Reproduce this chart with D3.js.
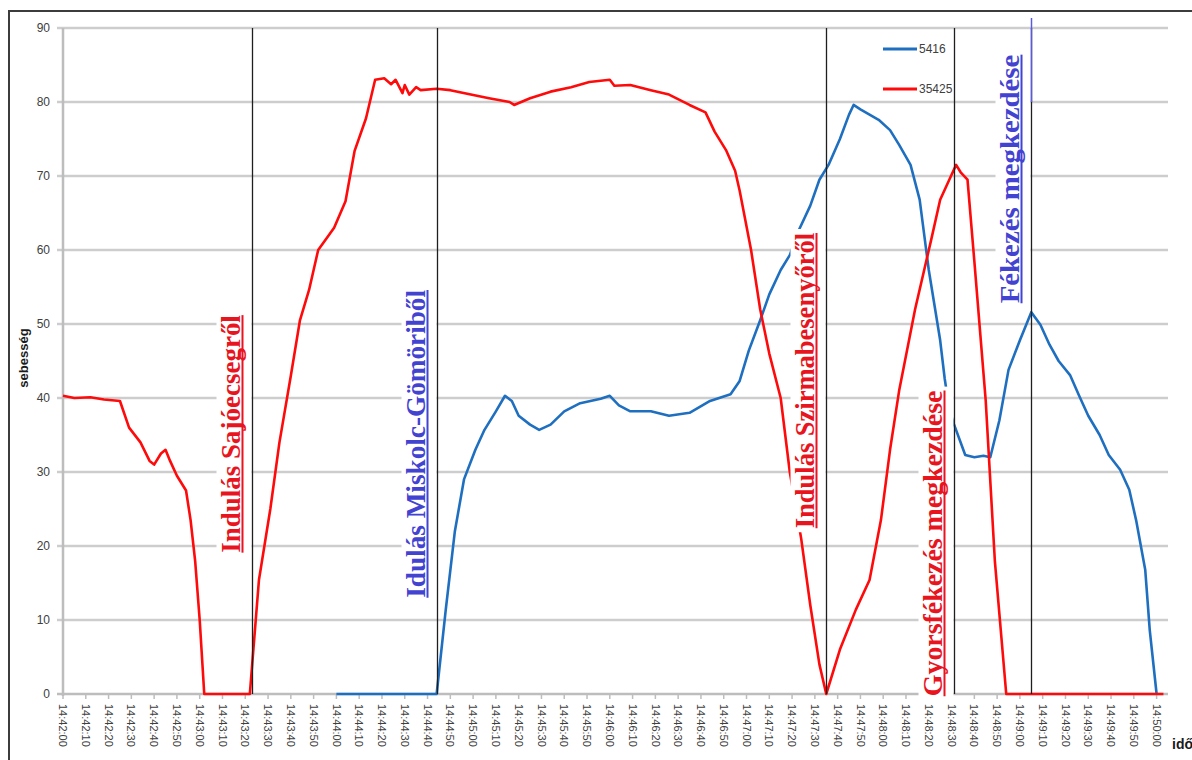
<!DOCTYPE html>
<html>
<head>
<meta charset="utf-8">
<script src="https://cdn.jsdelivr.net/npm/d3@7"></script>
<style>
  body { margin: 0; background: #fff; }
  svg { display: block; }
</style>
</head>
<body>
<div id="chart"></div>
<script>
var width = 1192, height = 760;

// speed of train 5416 (time, km/h)
const train5416 = [
  ["14:44:00", 0], ["14:44:44", 0], ["14:44:48", 11.4], ["14:44:52", 22], ["14:44:56", 29],
  ["14:45:01", 33], ["14:45:05", 35.7], ["14:45:10", 38.2], ["14:45:14", 40.3], ["14:45:17", 39.6],
  ["14:45:20", 37.6], ["14:45:25", 36.4], ["14:45:29", 35.7], ["14:45:34", 36.4], ["14:45:40", 38.2],
  ["14:45:47", 39.3], ["14:45:56", 39.9], ["14:46:00", 40.3], ["14:46:04", 39], ["14:46:09", 38.2],
  ["14:46:18", 38.2], ["14:46:26", 37.6], ["14:46:35", 38], ["14:46:44", 39.6], ["14:46:53", 40.5],
  ["14:46:57", 42.3], ["14:47:01", 46.4], ["14:47:06", 50.5], ["14:47:10", 54], ["14:47:15", 57.3],
  ["14:47:19", 59.3], ["14:47:23", 62.7], ["14:47:28", 66], ["14:47:32", 69.5], ["14:47:36", 71.5],
  ["14:47:41", 75], ["14:47:45", 78.3], ["14:47:47", 79.6], ["14:47:50", 79], ["14:47:54", 78.3],
  ["14:47:58", 77.6], ["14:48:03", 76.2], ["14:48:07", 74.2], ["14:48:12", 71.5], ["14:48:16", 66.8],
  ["14:48:20", 57.3], ["14:48:25", 47.8], ["14:48:27", 42.6], ["14:48:29", 38.5], ["14:48:31", 36.5],
  ["14:48:36", 32.3], ["14:48:40", 32], ["14:48:44", 32.2], ["14:48:47", 32], ["14:48:51", 37],
  ["14:48:55", 43.8], ["14:49:00", 47.8], ["14:49:05", 51.6], ["14:49:09", 49.9], ["14:49:13", 47.2],
  ["14:49:17", 45], ["14:49:22", 43.1], ["14:49:26", 40.3], ["14:49:30", 37.6], ["14:49:35", 35],
  ["14:49:39", 32.3], ["14:49:44", 30.3], ["14:49:48", 27.6], ["14:49:51", 23.5], ["14:49:55", 16.8],
  ["14:49:57", 8.6], ["14:50:00", 0]
];

// speed of train 35425
const train35425 = [
  ["14:42:00", 40.3], ["14:42:05", 40.0], ["14:42:12", 40.1], ["14:42:18", 39.8], ["14:42:25", 39.6],
  ["14:42:29", 36], ["14:42:34", 34], ["14:42:38", 31.5], ["14:42:40", 31], ["14:42:43", 32.5],
  ["14:42:45", 33], ["14:42:47", 31.5], ["14:42:50", 29.5], ["14:42:54", 27.5], ["14:42:56", 23.5],
  ["14:42:58", 18], ["14:43:00", 10], ["14:43:02", 0], ["14:43:22", 0], ["14:43:26", 15.4],
  ["14:43:31", 25], ["14:43:35", 34], ["14:43:40", 43], ["14:43:44", 50.5], ["14:43:48", 54.6],
  ["14:43:52", 60], ["14:43:55", 61.3], ["14:43:59", 63], ["14:44:04", 66.6], ["14:44:08", 73.4],
  ["14:44:13", 77.8], ["14:44:17", 83], ["14:44:21", 83.2], ["14:44:24", 82.4], ["14:44:26", 83],
  ["14:44:29", 81.2], ["14:44:30", 82.3], ["14:44:32", 81], ["14:44:35", 82], ["14:44:37", 81.6],
  ["14:44:44", 81.8], ["14:44:50", 81.6], ["14:44:59", 81], ["14:45:07", 80.5], ["14:45:16", 80],
  ["14:45:18", 79.6], ["14:45:25", 80.5], ["14:45:34", 81.4], ["14:45:43", 82], ["14:45:51", 82.7],
  ["14:46:00", 83], ["14:46:02", 82.2], ["14:46:09", 82.3], ["14:46:18", 81.6], ["14:46:26", 81],
  ["14:46:35", 79.6], ["14:46:42", 78.6], ["14:46:46", 76], ["14:46:51", 73.5], ["14:46:55", 70.7],
  ["14:46:57", 68], ["14:47:02", 60], ["14:47:06", 52], ["14:47:10", 46], ["14:47:15", 40],
  ["14:47:19", 30], ["14:47:24", 21], ["14:47:28", 12], ["14:47:32", 4], ["14:47:35", 0],
  ["14:47:41", 6], ["14:47:48", 11.4], ["14:47:54", 15.4], ["14:47:59", 23.5], ["14:48:03", 33],
  ["14:48:07", 41], ["14:48:14", 52], ["14:48:21", 61.3], ["14:48:25", 66.8], ["14:48:29", 69.5],
  ["14:48:32", 71.5], ["14:48:34", 70.5], ["14:48:37", 69.5], ["14:48:40", 58.5], ["14:48:45", 39.6],
  ["14:48:49", 18], ["14:48:54", 0], ["14:50:03", 0]
];

const yTicks = [0, 10, 20, 30, 40, 50, 60, 70, 80, 90];

// event markers: time, label, colour, speed span of the text (bottom, top)
const markerTimes = ["14:43:23", "14:44:44", "14:47:35", "14:48:31", "14:49:05"];
const markerLabels = ["Indulás Sajóecsegről", "Idulás Miskolc-Gömöriből", "Indulás Szirmabesenyőről",
  "Gyorsfékezés megkezdése", "Fékezés megkezdése"];
const markerColors = ["#e8141e", "#4343d2", "#e8141e", "#e8141e", "#4343d2"];
const markerSpans = [[19.1, 51.2], [13.0, 54.6], [22.4, 62.3], [-0.3, 41], [52.8, 86.4]];

const parseTime = d3.timeParse("%H:%M:%S");

const svg = d3.select("#chart").append("svg")
  .attr("width", width).attr("height", height)
  .style("font-family", "'Liberation Sans', Arial, sans-serif");

// outer frame of the pasted chart
svg.append("rect")
  .attr("x", 9).attr("y", 11).attr("width", 1300).attr("height", 900)
  .attr("fill", "#fff").attr("stroke", "#3c3c3c").attr("stroke-width", 2);

const x = d3.scaleTime()
  .domain([parseTime("14:42:00"), parseTime("14:50:05")])
  .range([63, 1168]);
const y = d3.scaleLinear().domain([0, 90]).range([694, 28]);

//Gridlines
svg.append("g").selectAll("line").data(yTicks.filter(d => d > 0)).enter().append("line")
  .attr("x1", 57).attr("x2", 1168)
  .attr("y1", d => y(d)).attr("y2", d => y(d))
  .attr("stroke", "#cdcdcd").attr("stroke-width", 2.5);

//Axes lines
svg.append("line").attr("x1", 63).attr("x2", 63).attr("y1", y(90)).attr("y2", y(0) + 2)
  .attr("stroke", "#bdbdbd").attr("stroke-width", 2.5);
svg.append("line").attr("x1", 57).attr("x2", 1168).attr("y1", y(0)).attr("y2", y(0))
  .attr("stroke", "#bdbdbd").attr("stroke-width", 2.5);

svg.append("g").selectAll("text").data(yTicks).enter().append("text")
  .attr("x", 50).attr("y", d => y(d)).attr("dy", "0.35em")
  .attr("text-anchor", "end")
  .style("font-size", "12px").attr("fill", "#404040")
  .text(d => d);

const xTicks = d3.timeSecond.every(10).range(parseTime("14:42:00"), parseTime("14:50:01"));
const fmt = d3.timeFormat("%H:%M:%S");

svg.append("g").selectAll("line").data(xTicks).enter().append("line")
  .attr("x1", d => x(d)).attr("x2", d => x(d))
  .attr("y1", y(0)).attr("y2", y(0) + 5)
  .attr("stroke", "#bdbdbd").attr("stroke-width", 1.5);

svg.append("g").selectAll("text").data(xTicks).enter().append("text")
  .attr("transform", d => `translate(${x(d)}, 704) rotate(90)`)
  .attr("dy", "0.35em")
  .style("font-size", "11px").attr("fill", "#404040")
  .text(d => fmt(d));

//Axis titles
svg.append("text")
  .attr("transform", "translate(28, 358) rotate(-90)")
  .attr("text-anchor", "middle")
  .style("font-size", "13px").style("font-weight", "bold").attr("fill", "#1a1a1a")
  .text("sebesség");
svg.append("text")
  .attr("x", 1172).attr("y", 749)
  .style("font-size", "14px").style("font-weight", "bold").attr("fill", "#1a1a1a")
  .text("idő");

//Series
const line = d3.line().x(d => x(parseTime(d[0]))).y(d => y(d[1]));
const series = [
  { name: "5416", values: train5416, color: "#1f6fc0" },
  { name: "35425", values: train35425, color: "#ff0a0a" }
];

svg.append("g").selectAll("path").data(series).enter().append("path")
  .attr("d", d => line(d.values))
  .attr("fill", "none")
  .attr("stroke", d => d.color)
  .attr("stroke-width", 2.6)
  .attr("stroke-linejoin", "round");

//Legend
const legend = svg.append("g").selectAll("g").data(series).enter().append("g")
  .attr("transform", (d, i) => `translate(883, ${49 + i * 40})`);
legend.append("line").attr("x1", 0).attr("x2", 34)
  .attr("stroke", d => d.color).attr("stroke-width", 3);
legend.append("text").attr("x", 36).attr("dy", "0.35em")
  .style("font-size", "12px").attr("fill", "#404040")
  .text(d => d.name);

//Marker annotations (white text boxes, underlined serif labels)
const markers = markerTimes.map((t, i) => ({
  x: Math.round(x(parseTime(t))) + 0.5,
  label: markerLabels[i], color: markerColors[i],
  y0: y(markerSpans[i][0]), y1: y(markerSpans[i][1])
}));

const mg = svg.append("g").selectAll("g").data(markers).enter().append("g");
mg.append("rect")
  .attr("x", d => d.x - 36).attr("width", 35)
  .attr("y", d => d.y1 - 4).attr("height", d => d.y0 - d.y1 + 8)
  .attr("fill", "#fff");
mg.append("text")
  .attr("transform", d => `translate(${d.x - 13}, ${d.y0}) rotate(-90)`)
  .attr("textLength", d => d.y0 - d.y1)
  .attr("lengthAdjust", "spacingAndGlyphs")
  .style("font-family", "'Liberation Serif', 'Times New Roman', serif")
  .style("font-weight", "bold").style("font-size", "27px")
  .attr("fill", d => d.color)
  .text(d => d.label);
mg.append("line")
  .attr("x1", d => d.x - 10).attr("x2", d => d.x - 10)
  .attr("y1", d => d.y0).attr("y2", d => d.y1)
  .attr("stroke", d => d.color).attr("stroke-width", 2);
mg.append("line")
  .attr("x1", d => d.x).attr("x2", d => d.x)
  .attr("y1", y(90)).attr("y2", y(0))
  .attr("stroke", "#1e1e1e").attr("stroke-width", 1.3);

// top part of last marker line is drawn in blue
const last = markers[markers.length - 1];
svg.append("line")
  .attr("x1", last.x).attr("x2", last.x).attr("y1", 18).attr("y2", 102)
  .attr("stroke", "#5a5ae0").attr("stroke-width", 1.5);
</script>
</body>
</html>
